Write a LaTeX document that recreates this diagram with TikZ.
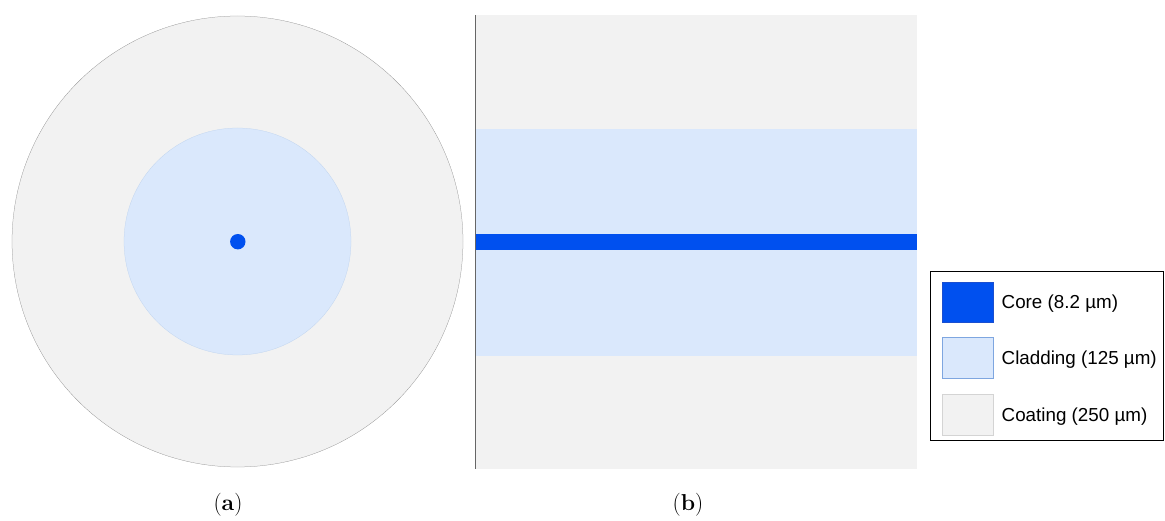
\documentclass[tikz,border=0pt]{standalone}
\usepackage{fontspec}
\setmainfont{Liberation Sans}
\newfontfamily\capfont{Latin Modern Roman}
\definecolor{coatgray}{HTML}{F2F2F2}
\definecolor{cladblue}{HTML}{DAE8FC}
\definecolor{cladedge}{HTML}{7EA6E0}
\definecolor{coreblue}{HTML}{0050EF}
\definecolor{coreedge}{HTML}{1A4FD0}
\definecolor{coatedge}{HTML}{D4D4D4}
\tikzset{
  legtext/.style={anchor=base west, inner sep=0pt, font=\fontsize{18.8}{20}\selectfont},
  caplabel/.style={anchor=center, inner sep=0pt, font=\capfont\fontsize{23}{25}\selectfont},
  swatch/.style={minimum width=51pt, minimum height=40.5pt, inner sep=0pt, line width=0.8pt},
}
\begin{document}
\begin{tikzpicture}[x=1pt,y=-1pt]
\useasboundingbox (0,0) rectangle (1165,521);
% (a) cross-section
\fill[coatgray] (237.5,241.5) circle (225.5);
\draw[black!45, line width=0.25pt] (237.5,241.5) circle (225.5);
\fill[cladblue] (237.5,241.5) circle (113.5);
\draw[cladedge!50, line width=0.25pt] (237.5,241.5) circle (113.5);
\fill[coreblue] (237.8,241.7) circle (7.7);
% (b) longitudinal
\fill[coatgray] (475,15) rectangle (917,469);
\fill[cladblue] (475,129) rectangle (917,356);
\fill[coreblue] (475,234) rectangle (917,250.5);
\draw[black!60, line width=1.2pt] (475.5,15) -- (475.5,469);
% legend
\node[draw=black, line width=1.5pt, minimum width=233pt, minimum height=169pt, inner sep=0pt] (legend) at (1047,355.8) {};
\node[swatch, fill=coreblue, draw=coreedge] (sw1) at (967.8,302.5) {};
\node[swatch, fill=cladblue, draw=cladedge] (sw2) at (967.8,358) {};
\node[swatch, fill=coatgray, draw=coatedge] (sw3) at (967.8,414.7) {};
\node[legtext] (t1) at (1001.5,309) {Core (8.2 µm)};
\node[legtext] (t2) at (1001.5,364) {Cladding (125 µm)};
\node[legtext] (t3) at (1001.5,421) {Coating (250 µm)};
% captions
\node[caplabel] (capa) at (228,505) {(\textbf{a})};
\node[caplabel] (capb) at (688,505) {(\textbf{b})};
\end{tikzpicture}
\end{document}
